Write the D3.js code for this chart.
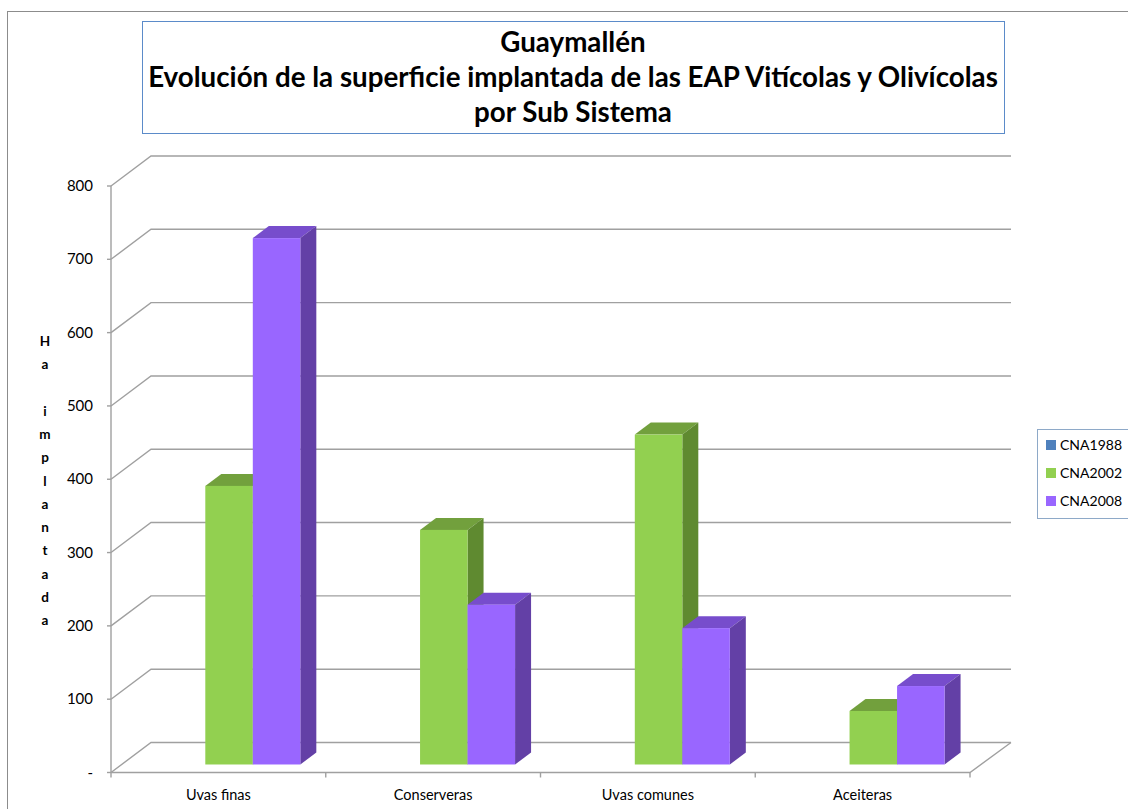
<!DOCTYPE html>
<html>
<head>
<meta charset="utf-8">
<script src="https://cdn.jsdelivr.net/npm/d3@7"></script>
<style>
  body { margin: 0; background: #fff; }
  text { font-family: Lato, "Liberation Sans", sans-serif; }
</style>
</head>
<body>
<div id="chart"></div>
<script>
//============== data ===============//
const categories = ["Uvas finas", "Conserveras", "Uvas comunes", "Aceiteras"];
const seriesNames = ["CNA1988", "CNA2002", "CNA2008"];
const cna1988 = [null, null, null, null];
const cna2002 = [380, 320, 450, 73];
const cna2008 = [718, 218, 186, 107];
const yTicks = [0, 100, 200, 300, 400, 500, 600, 700, 800];
const yTickLabels = ["-", "100", "200", "300", "400", "500", "600", "700", "800"];
const titleLines = ["Guaymallén", "Evolución de la superficie implantada de las EAP Vitícolas y Olivícolas", "por Sub Sistema"];
const axisTitle = "Ha implantada";

const seriesValues = [cna1988, cna2002, cna2008];
const colors = {
  CNA1988: {front: "#4F81BD", top: "#3E6797", side: "#365A85"},
  CNA2002: {front: "#92D050", top: "#72A03D", side: "#5F8A30"},
  CNA2008: {front: "#9966FF", top: "#774DCC", side: "#6340A6"}
};

//============== env ===============//
const W = 1128, H = 809;
const svg = d3.select("#chart").append("svg")
  .attr("width", W).attr("height", H);

// plot frame (oblique projection)
const x0 = 111, x1 = 970;
const depthX = 40, depthY = -30;
const zFront = 0.267, zBack = 0.667;

const y = d3.scaleLinear().domain([0, 800]).range([772.5, 186]);
const xCat = d3.scaleBand().domain(categories).range([x0, x1]);
const xSer = d3.scaleBand().domain(seriesNames).range([0, xCat.bandwidth()]).paddingOuter(0.76);

// outer chart border
svg.append("rect")
  .attr("x", 7.5).attr("y", 11.5).attr("width", W + 20).attr("height", H + 20)
  .attr("fill", "none").attr("stroke", "#8c8c8c");

// title box
svg.append("rect")
  .attr("x", 142.5).attr("y", 21.5).attr("width", 862).attr("height", 112)
  .attr("fill", "#fff").attr("stroke", "#5b8bc9");

const titleY = [52, 87, 122];
const title = svg.append("g");
titleLines.forEach((t, i) => {
  title.append("text")
    .attr("x", 573).attr("y", titleY[i])
    .attr("text-anchor", "middle")
    .style("font-weight", "bold")
    .style("font-size", "24px")
    .text(t);
});
// fit the long line to the reference width
const longest = title.selectAll("text").nodes()[1].getComputedTextLength();
const fs = 24 * 850 / longest;
title.selectAll("text").style("font-size", fs + "px");

// gridlines on the back wall with diagonals to the front axis
const grid = svg.append("g").attr("stroke", "#a0a0a0").attr("stroke-width", 1.4).attr("fill", "none");
grid.selectAll("path")
  .data(yTicks)
  .join("path")
  .attr("d", d => `M${x0},${y(d)} L${x0 + depthX},${y(d) + depthY} L${x1 + depthX + 1},${y(d) + depthY}`);

// floor front edge and right edge
grid.append("path")
  .attr("d", `M${x0},${y(0)} L${x1},${y(0)} L${x1 + depthX + 1},${y(0) + depthY}`);

// front vertical axis
grid.append("line")
  .attr("x1", x0).attr("x2", x0).attr("y1", y(800)).attr("y2", y(0));
grid.selectAll(".ytick")
  .data(yTicks)
  .join("line")
  .attr("class", "ytick")
  .attr("x1", x0 - 4).attr("x2", x0).attr("y1", d => y(d)).attr("y2", d => y(d));

// category tick marks
const bounds = categories.map(c => xCat(c)).concat([x1]);
grid.selectAll(".xtick")
  .data(bounds)
  .join("line")
  .attr("class", "xtick")
  .attr("x1", d => d).attr("x2", d => d)
  .attr("y1", y(0)).attr("y2", y(0) + 5);

// y labels
svg.append("g").selectAll("text")
  .data(yTicks)
  .join("text")
  .attr("x", 93).attr("y", d => y(d) + 5)
  .attr("text-anchor", "end")
  .style("font-size", "15px")
  .text((d, i) => yTickLabels[i]);

// category labels
svg.append("g").selectAll("text")
  .data(categories)
  .join("text")
  .attr("x", d => xCat(d) + xCat.bandwidth() / 2)
  .attr("y", 800)
  .attr("text-anchor", "middle")
  .style("font-size", "14.5px")
  .text(d => d);

// axis title, one letter per line
svg.append("g").selectAll("text")
  .data(axisTitle.split(""))
  .join("text")
  .attr("x", 45).attr("y", (d, i) => 346 + i * 23.25)
  .attr("text-anchor", "middle")
  .style("font-weight", "bold")
  .style("font-size", "13.5px")
  .text(d => d);

// bars
const bars = svg.append("g");
categories.forEach((c, ci) => {
  seriesNames.forEach((s, si) => {
    const v = seriesValues[si][ci];
    if (v == null || v <= 0) return;
    const col = colors[s];
    const bx = xCat(c) + xSer(s) + zFront * depthX;
    const bw = xSer.bandwidth();
    const yb = y(0) + zFront * depthY;
    const yt = y(v) + zFront * depthY;
    const dx = (zBack - zFront) * depthX, dy = (zBack - zFront) * depthY;
    const g = bars.append("g");
    g.append("path")
      .attr("d", `M${bx},${yt} L${bx + dx},${yt + dy} L${bx + bw + dx},${yt + dy} L${bx + bw},${yt} Z`)
      .attr("fill", col.top);
    g.append("path")
      .attr("d", `M${bx + bw},${yt} L${bx + bw + dx},${yt + dy} L${bx + bw + dx},${yb + dy} L${bx + bw},${yb} Z`)
      .attr("fill", col.side);
    g.append("rect")
      .attr("x", bx).attr("y", yt).attr("width", bw).attr("height", yb - yt)
      .attr("fill", col.front);
  });
});

// legend
const legend = svg.append("g");
legend.append("rect")
  .attr("x", 1037.5).attr("y", 429.5).attr("width", 120).attr("height", 89)
  .attr("fill", "#fff").attr("stroke", "#8ea9c8");
seriesNames.forEach((s, i) => {
  const ly = 445 + i * 28;
  legend.append("rect")
    .attr("x", 1046).attr("y", ly - 5).attr("width", 10).attr("height", 10)
    .attr("fill", colors[s].front);
  legend.append("text")
    .attr("x", 1060).attr("y", ly + 5)
    .style("font-size", "14px")
    .text(s);
});
</script>
</body>
</html>
